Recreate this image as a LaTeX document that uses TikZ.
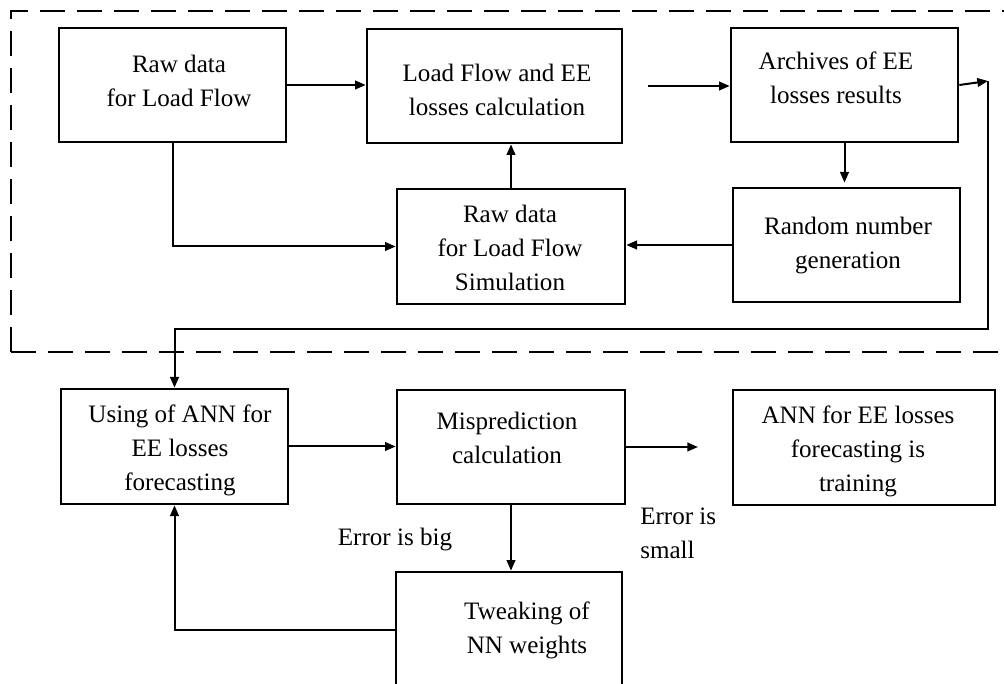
\documentclass[tikz,border=0pt]{standalone}
\usepackage{fontspec}
\setmainfont{Liberation Serif}
\usetikzlibrary{arrows.meta}
\begin{document}
\begin{tikzpicture}[x=0.75pt,y=-0.75pt,
  box/.style={draw, line width=2pt, inner sep=0pt},
  txt/.style={font=\fontsize{18.8}{25.5}\selectfont, align=center, inner sep=0pt},
  conn/.style={line width=1.5pt},
  arr/.style={conn, -{Triangle[length=8pt,width=6.5pt]}},
  frame/.style={line width=2.2pt, dash pattern=on 18.75pt off 9pt}]
\useasboundingbox (0,0) rectangle (1004,684);
\clip (0,0) rectangle (1004,684);

% dashed frame around the load-flow simulation stage
\draw[frame] (11,352) -- (11,11) -- (1030,11) (11,352) -- (1030,352);

% boxes
\node[box, minimum width=170.25pt, minimum height=85.5pt] (rawA) at (172.5,85) {};
\node[box, minimum width=191.25pt, minimum height=85.5pt] (lfc) at (494.5,86) {};
\node[box, minimum width=170.25pt, minimum height=85.5pt] (archive) at (844.5,85) {};
\node[box, minimum width=170.25pt, minimum height=85.5pt] (rand) at (846.5,245) {};
\node[box, minimum width=171pt, minimum height=86.25pt] (rawS) at (511,246.5) {};
\node[box, minimum width=170.25pt, minimum height=86.25pt] (ann) at (174.5,446.5) {};
\node[box, minimum width=171pt, minimum height=85.5pt] (mis) at (511,447) {};
\node[box, minimum width=196.5pt, minimum height=86.25pt] (train) at (864,447.5) {};
\node[box, minimum width=169.5pt, minimum height=96pt] (tweak) at (509,636) {};

% box texts
\node[txt] (tRawA) at (179,83.2) {\strut Raw data\\\strut for Load Flow};
\node[txt] (tLfc) at (497,92) {\strut Load Flow and EE\\\strut losses calculation};
\node[txt] (tArchive) at (836,80) {\strut Archives of EE\\\strut losses results};
\node[txt] (tRand) at (848,245) {\strut Random number\\\strut generation};
\node[txt] (tRawS) at (510,250) {\strut Raw data\\\strut for Load Flow\\\strut Simulation};
\node[txt] (tAnn) at (180,450) {\strut Using of ANN for\\\strut EE losses\\\strut forecasting};
\node[txt] (tMis) at (507,440) {\strut Misprediction\\\strut calculation};
\node[txt] (tTrain) at (858,451) {\strut ANN for EE losses\\\strut forecasting is\\\strut training};
\node[txt] (tTweak) at (527,630) {\strut Tweaking of\\\strut NN weights};

% branch labels
\node[txt] (big) at (395,538.2) {\strut Error is big};
\node[txt, align=left, anchor=west] (small) at (640,535) {\strut Error is\\\strut small};

% connectors
\draw[arr] (rawA.east) -- (rawA.east -| lfc.west);
\coordinate (lfcOut) at ([xshift=18.75pt]lfc.east);
\draw[arr] (lfcOut) -- (lfcOut -| archive.west);
\coordinate (turn) at (988,81);
\coordinate (bend) at (988,329);
\draw[arr] (archive.east) -- (turn);
\draw[arr] (turn) -- (bend) -| (ann.north);
\draw[arr, shorten >=3pt] (archive.south) -- (archive.south |- rand.north);
\draw[arr] (rand.west) -- (rand.west -| rawS.east);
\draw[arr] (rawA.south) |- (rawS.west);
\draw[arr] (rawS.north) -- (rawS.north |- lfc.south);
\draw[arr] (ann.east) -- (ann.east -| mis.west);
\coordinate (done) at (698,447);
\draw[arr] (mis.east) -- (done);
\draw[arr] (mis.south) -- (mis.south |- tweak.north);
\draw[arr] ([yshift=4.5pt]tweak.west) -| (ann.south);
\end{tikzpicture}
\end{document}
